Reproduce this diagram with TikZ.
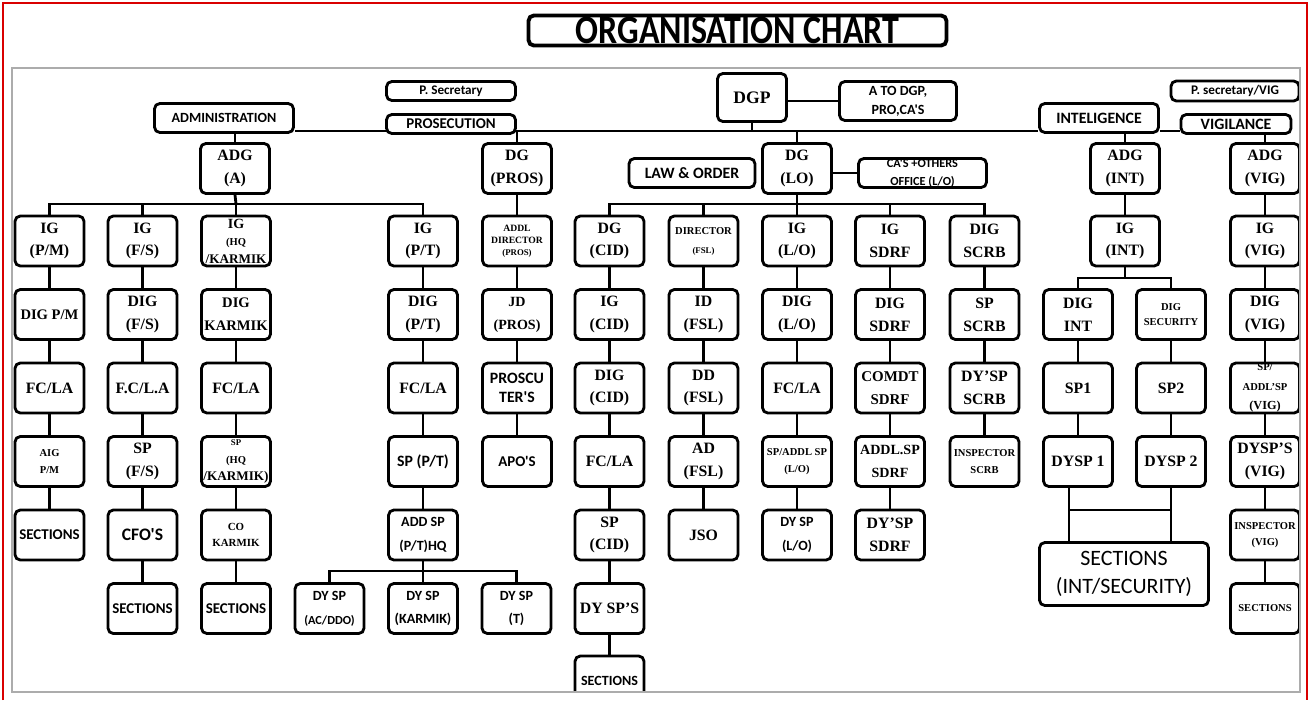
\documentclass[tikz,border=0pt]{standalone}
\usepackage{fontspec}
\setmainfont{Liberation Serif}
\newfontfamily\calib{Carlito}
\usepackage{tikz}
\usetikzlibrary{positioning,calc,backgrounds}

\newcommand{\serf}{\fontsize{9}{13}\selectfont\bfseries}
\newcommand{\serfs}{\fontsize{6}{9.5}\selectfont\bfseries}
\newcommand{\sanf}{\calib\fontsize{8.5}{14}\selectfont\bfseries}
\newcommand{\sanfs}{\calib\fontsize{7}{10}\selectfont\bfseries}

\begin{document}
\begin{tikzpicture}[x=0.02cm, y=-0.02cm,
    box/.style={draw, line width=1.6pt, rounded corners=3pt, fill=white, align=center,
        inner sep=0pt, minimum width=1.38cm, minimum height=1cm, font=\serf},
    sbox/.style={box, font=\sanf},
    tbox/.style={box, font=\serfs},
    head/.style={box, font=\sanf, minimum height=0.58cm},
    link/.style={line width=1.6pt}]
        \useasboundingbox (0,0) rectangle (1310,700);

        % Page border
        \draw[red!85!black, line width=1.2pt] (3,700) -- (3,3) -- (1307,3) -- (1307,700);

        % Title
        \node[box, line width=2.2pt, font=\calib\fontsize{23}{23}\selectfont\bfseries,
            minimum width=8.36cm, minimum height=0.6cm] (title) at (737.5,30.5)
            {\scalebox{0.84}[1]{ORGANISATION CHART}};

        \begin{scope}
        \clip (12,68) rectangle (1301,692);

        % Heads
        \node[box, font=\fontsize{10}{12}\selectfont\bfseries, minimum height=0.96cm] (dgp) at (752,97.5) {DGP};
        \node[head, font=\calib\fontsize{8}{10.8}\selectfont\bfseries, minimum width=2.34cm, minimum height=0.78cm] (atodgp) at (898,101) {A TO DGP,\\PRO,CA'S};
        \node[head, font=\calib\fontsize{7.5}{9}\selectfont\bfseries, minimum width=2.58cm, minimum height=0.38cm] (psec) at (451,91) {P. Secretary};
        \node[head, font=\calib\fontsize{8}{10}\selectfont\bfseries, minimum width=2.78cm] (admin) at (224,118) {ADMINISTRATION};
        \node[head, minimum width=2.58cm, minimum height=0.38cm] (prosec) at (451,124) {PROSECUTION};
        \node[head, font=\calib\fontsize{9}{11}\selectfont\bfseries, minimum width=2.38cm] (intel) at (1099,118) {INTELIGENCE};
        \node[head, font=\calib\fontsize{9}{11}\selectfont\bfseries, minimum width=2.2cm, minimum height=0.38cm] (vigil) at (1236,124) {VIGILANCE};
        \node[head, font=\calib\fontsize{7.5}{9}\selectfont\bfseries, minimum width=2.56cm, minimum height=0.4cm] (psecvig) at (1235,91) {P. secretary/VIG};

        % Wings
        \node[box] (adgA) at (235,168.5) {ADG\\(A)};
        \node[box] (dgPROS) at (517,168.5) {DG\\(PROS)};
        \node[head, font=\calib\fontsize{9}{11}\selectfont\bfseries, minimum width=2.52cm] (laworder) at (692,173) {LAW \& ORDER};
        \node[box] (dgLO) at (797,168.5) {DG\\(LO)};
        \node[head, font=\sanfs, minimum width=2.56cm] (caoff) at (922.5,173) {CA'S +OTHERS\\OFFICE (L/O)};
        \node[box] (adgINT) at (1125,168.5) {ADG\\(INT)};
        \node[box] (adgVIG) at (1265,168.5) {ADG\\(VIG)};

        % Row 2
        \node[box] (igPM) at (49.5,241) {IG\\(P/M)};
        \node[box] (igFS) at (142.5,241) {IG\\(F/S)};
        \node[box, font=\fontsize{7.5}{10}\selectfont\bfseries] (igHQ) at (236,241) {{\fontsize{8}{9}\selectfont IG}\\{\fontsize{6}{7}\selectfont (HQ}\\/KARMIK};
        \node[box] (igPT) at (423,241) {IG\\(P/T)};
        \node[box, font=\fontsize{5.5}{6.8}\selectfont\bfseries] (addlDIR) at (517,241) {ADDL\\DIRECTOR\\{\fontsize{5}{6}\selectfont (PROS)}};
        \node[box] (dgCID) at (609.5,241) {DG\\(CID)};
        \node[box, font=\fontsize{6}{10.8}\selectfont\bfseries] (dirFSL) at (703.5,241) {DIRECTOR\\{\fontsize{5}{6}\selectfont (FSL)}};
        \node[box] (igLO) at (797,241) {IG\\(L/O)};
        \node[box] (igSDRF) at (890,241) {IG\\SDRF};
        \node[box] (digSCRB) at (984.5,241) {DIG\\SCRB};
        \node[box] (igINT) at (1125,241) {IG\\(INT)};
        \node[box] (igVIG) at (1265,241) {IG\\(VIG)};

        % Row 3
        \node[box, font=\fontsize{8.3}{13}\selectfont\bfseries] (digPM) at (49.5,314.5) {DIG P/M};
        \node[box] (digFS) at (142.5,314.5) {DIG\\(F/S)};
        \node[box, font=\fontsize{8.3}{13}\selectfont\bfseries] (digKAR) at (236,314.5) {DIG\\KARMIK};
        \node[box] (digPT) at (423,314.5) {DIG\\(P/T)};
        \node[box, font=\fontsize{8}{13}\selectfont\bfseries] (jdPROS) at (517,314.5) {JD\\(PROS)};
        \node[box] (igCID) at (609.5,314.5) {IG\\(CID)};
        \node[box] (idFSL) at (703.5,314.5) {ID\\(FSL)};
        \node[box] (digLO) at (797,314.5) {DIG\\(L/O)};
        \node[box] (digSDRF) at (890,314.5) {DIG\\SDRF};
        \node[box] (spSCRB) at (984.5,314.5) {SP\\SCRB};
        \node[box] (digINT) at (1078,314.5) {DIG\\INT};
        \node[box, font=\fontsize{6}{9}\selectfont\bfseries] (digSEC) at (1171,314.5) {DIG\\SECURITY};
        \node[box] (digVIG) at (1265,314.5) {DIG\\(VIG)};

        % Row 4
        \node[box] (fclaPM) at (49.5,388) {FC/LA};
        \node[box] (fclaFS) at (142.5,388) {F.C/L.A};
        \node[box] (fclaHQ) at (236,388) {FC/LA};
        \node[box] (fclaPT) at (423,388) {FC/LA};
        \node[sbox, font=\calib\fontsize{9}{10.5}\selectfont\bfseries] (proscu) at (517,388) {PROSCU\\TER'S};
        \node[box] (digCID) at (609.5,388) {DIG\\(CID)};
        \node[box] (ddFSL) at (703.5,388) {DD\\(FSL)};
        \node[box] (fclaLO) at (797,388) {FC/LA};
        \node[box, font=\fontsize{8.5}{13}\selectfont\bfseries] (comdt) at (890,388) {COMDT\\SDRF};
        \node[box] (dyspSCRB) at (984.5,388) {DY'SP\\SCRB};
        \node[box] (spOne) at (1078,388) {SP1};
        \node[box] (spTwo) at (1171,388) {SP2};
        \node[box, font=\fontsize{6}{11}\selectfont\bfseries] (addlspVIG) at (1265,388) {SP/\\ADDL'SP\\{\fontsize{7}{8}\selectfont (VIG)}};

        % Row 5
        \node[box, font=\fontsize{6}{9.5}\selectfont\bfseries] (aigPM) at (49.5,461.5) {AIG\\P/M};
        \node[box] (spFS) at (142.5,461.5) {SP\\(F/S)};
        \node[box, font=\fontsize{7.5}{10}\selectfont\bfseries] (spHQ) at (236,461.5) {{\fontsize{5}{6}\selectfont SP}\\{\fontsize{6}{7}\selectfont (HQ}\\/KARMIK)};
        \node[sbox, font=\calib\fontsize{9}{11}\selectfont\bfseries] (spPT) at (423,461.5) {SP (P/T)};
        \node[sbox] (apos) at (517,461.5) {APO'S};
        \node[box] (fclaCID) at (609.5,461.5) {FC/LA};
        \node[box] (adFSL) at (703.5,461.5) {AD\\(FSL)};
        \node[tbox] (spLO) at (797,461.5) {SP/ADDL SP\\(L/O)};
        \node[box, font=\fontsize{8}{13}\selectfont\bfseries] (addlSDRF) at (890,461.5) {ADDL.SP\\SDRF};
        \node[tbox] (inspSCRB) at (984.5,461.5) {INSPECTOR\\SCRB};
        \node[box] (dyspOne) at (1078,461.5) {DYSP 1};
        \node[box] (dyspTwo) at (1171,461.5) {DYSP 2};
        \node[box] (dyspsVIG) at (1265,461.5) {DYSP'S\\(VIG)};

        % Row 6
        \node[sbox] (secPM) at (49.5,535) {SECTIONS};
        \node[sbox, font=\calib\fontsize{10}{12}\selectfont\bfseries] (cfos) at (142.5,535) {CFO'S};
        \node[tbox, font=\fontsize{6.2}{9}\selectfont\bfseries] (coKAR) at (236,535) {CO\\KARMIK};
        \node[sbox, font=\calib\fontsize{8}{14}\selectfont\bfseries] (addspPT) at (423,535) {ADD SP\\(P/T)HQ};
        \node[box] (spCID) at (609.5,535) {SP\\(CID)};
        \node[box] (jso) at (703.5,535) {JSO};
        \node[sbox, font=\calib\fontsize{8}{14}\selectfont\bfseries] (dyLO) at (797,535) {DY SP\\(L/O)};
        \node[box] (dySDRF) at (890,535) {DY'SP\\SDRF};
        \node[tbox, font=\fontsize{6}{9.5}\selectfont\bfseries] (inspVIG) at (1265,535) {INSPECTOR\\(VIG)};

        % Row 7
        \node[sbox] (secFS) at (142.5,608.5) {SECTIONS};
        \node[sbox] (secHQ) at (236,608.5) {SECTIONS};
        \node[sbox, font=\calib\fontsize{8}{13.5}\selectfont\bfseries] (dyAC) at (329.5,608.5) {DY SP\\{\fontsize{7}{8}\selectfont (AC/DDO)}};
        \node[sbox, font=\calib\fontsize{8}{13.5}\selectfont\bfseries] (dyKAR) at (423,608.5) {DY SP\\(KARMIK)};
        \node[sbox, font=\calib\fontsize{8}{13.5}\selectfont\bfseries] (dyT) at (516.5,608.5) {DY SP\\(T)};
        \node[box] (dyspsCID) at (609.5,608.5) {DY SP'S};
        \node[tbox] (secVIG) at (1265,608.5) {SECTIONS};

        % Row 8
        \node[sbox, font=\calib\fontsize{8}{10}\selectfont\bfseries] (secCID) at (609.5,681) {SECTIONS};

        % Intelligence sections
        \node[box, font=\calib\fontsize{12.5}{15.6}\selectfont, minimum width=3.38cm, minimum height=1.26cm] (secINT) at (1124,574) {SECTIONS\\(INT/SECURITY)};
        \end{scope}

        % Frame
        \draw[gray!65, line width=1.5pt] (12,68) rectangle (1300,692);

        % Connectors
        \begin{scope}[on background layer]
        \coordinate (spine) at (0,131);
        \coordinate (busA) at (236,204);
        \coordinate (busL) at (797,204);
        \coordinate (busI) at (1125,278);
        \coordinate (busP) at (423,571);
        \coordinate (bar) at (0,510);

        \draw[link] (admin.east |- spine) -- (intel.west |- spine);
        \draw[link] (intel.east |- spine) -- (vigil.west |- spine);
        \draw[link] (dgp.south) -- (dgp.south |- spine);
        \draw[link] (dgp.east |- atodgp.west) -- (atodgp.west);
        \draw[link] (adgA.north) -- (adgA.north |- admin.south);
        \draw[link] (dgPROS.north) -- (dgPROS.north |- spine);
        \draw[link] (dgLO.north) -- (dgLO.north |- spine);
        \draw[link] (caoff.west) -- (caoff.west -| dgLO.east);
        \draw[link] (adgINT.north) -- (adgINT.north |- intel.south);
        \draw[link] (adgVIG.north) -- (adgVIG.north |- vigil.south);

        % Administration bus
        \draw[link] (adgA.south) -- (busA);
        \draw[link] (igPM.north) |- (busA) -| (igPT.north);
        \draw[link] (igFS.north) -- (igFS.north |- busA);
        \draw[link] (igHQ.north) -- (igHQ.north |- busA);

        % Law & order bus
        \draw[link] (dgLO.south) -- (busL);
        \draw[link] (dgCID.north) |- (busL) -| (digSCRB.north);
        \foreach \n in {dirFSL, igLO, igSDRF}
            \draw[link] (\n.north) -- (\n.north |- busL);

        % Intelligence bus
        \draw[link] (igINT.south) -- (busI);
        \draw[link] (digINT.north) |- (busI) -| (digSEC.north);

        % Dy SP bus
        \draw[link] (addspPT.south) -- (busP);
        \draw[link] (dyAC.north) |- (busP) -| (dyT.north);
        \draw[link] (dyKAR.north) -- (busP);

        % Columns
        \foreach \a/\b in {igPM/digPM, digPM/fclaPM, fclaPM/aigPM, aigPM/secPM,
            igFS/digFS, digFS/fclaFS, fclaFS/spFS, spFS/cfos, cfos/secFS,
            igHQ/digKAR, digKAR/fclaHQ, fclaHQ/spHQ, spHQ/coKAR, coKAR/secHQ,
            igPT/digPT, digPT/fclaPT, fclaPT/spPT, spPT/addspPT,
            dgPROS/addlDIR, addlDIR/jdPROS, jdPROS/proscu, proscu/apos,
            dgCID/igCID, igCID/digCID, digCID/fclaCID, fclaCID/spCID, spCID/dyspsCID, dyspsCID/secCID,
            dirFSL/idFSL, idFSL/ddFSL, ddFSL/adFSL, adFSL/jso,
            igLO/digLO, digLO/fclaLO, fclaLO/spLO, spLO/dyLO,
            igSDRF/digSDRF, digSDRF/comdt, comdt/addlSDRF, addlSDRF/dySDRF,
            digSCRB/spSCRB, spSCRB/dyspSCRB, dyspSCRB/inspSCRB,
            adgINT/igINT, digINT/spOne, spOne/dyspOne, digSEC/spTwo, spTwo/dyspTwo,
            adgVIG/igVIG, igVIG/digVIG, digVIG/addlspVIG, addlspVIG/dyspsVIG, dyspsVIG/inspVIG, inspVIG/secVIG}
            \draw[link] (\a) -- (\b);

        % Sections (INT/SECURITY)
        \draw[link] ([xshift=-0.18cm]dyspOne.south) -- ([xshift=-0.18cm]dyspOne.south |- secINT.north);
        \draw[link] (dyspTwo.south) -- (dyspTwo.south |- secINT.north);
        \draw[link] ([xshift=-0.18cm]dyspOne.south |- bar) -- (dyspTwo.south |- bar);
        \end{scope}
    \end{tikzpicture}
\end{document}
